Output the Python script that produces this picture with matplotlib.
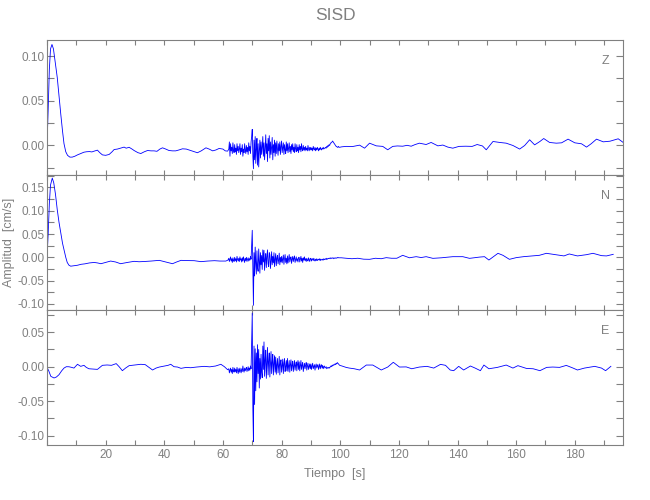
import numpy as np
import matplotlib
matplotlib.use("Agg")
import matplotlib.pyplot as plt
from matplotlib.ticker import MultipleLocator, FormatStrFormatter, FuncFormatter

plt.rcParams['font.family'] = ['Liberation Sans', 'DejaVu Sans']

# ── data ------------------------------------------------------------------- #
station = "SISD"
components = ["Z", "N", "E"]

# quiet parts: (time s, amplitude cm/s)
z_head = [(0.0, 0.000), (0.4, 0.040), (0.8, 0.085), (1.2, 0.108), (1.7, 0.113),
          (2.2, 0.108), (2.8, 0.093), (3.5, 0.076), (4.2, 0.052), (4.7, 0.035),
          (5.3, 0.016), (5.8, 0.002), (6.4, -0.007), (7.0, -0.011), (7.8, -0.013),
          (8.6, -0.013), (9.5, -0.012), (10.4, -0.0105), (11.5, -0.009), (12.6, -0.0075),
          (13.5, -0.007), (14.5, -0.0068), (15.3, -0.0072), (16.1, -0.0063), (17.2, -0.0052),
          (18.0, -0.008), (18.9, -0.0105), (20.0, -0.011), (21.2, -0.010), (22.2, -0.007),
          (22.9, -0.0045), (24.0, -0.004), (25.0, -0.003), (26.3, -0.0018), (27.0, -0.003),
          (28.0, -0.002), (29.0, -0.004), (29.7, -0.0056), (31.0, -0.008), (32.0, -0.009),
          (33.2, -0.007), (34.3, -0.0056), (35.5, -0.006), (36.5, -0.006), (37.5, -0.0065),
          (38.5, -0.004), (39.4, -0.0026), (40.5, -0.004), (41.6, -0.0056), (42.8, -0.006),
          (43.9, -0.006), (45.0, -0.005), (46.2, -0.0037), (47.5, -0.004), (49.0, -0.0056),
          (50.2, -0.007), (51.3, -0.0081), (52.6, -0.006), (54.2, -0.0026), (55.3, -0.004),
          (56.5, -0.006), (57.6, -0.005), (58.7, -0.0033), (60.0, -0.004), (60.8, -0.006),
          (61.6, -0.0063)]
z_tail = [(100.5, -0.0015), (102.0, -0.001), (104.3, -0.0011), (106.6, 0.0004), (108.3, -0.003),
          (110.0, 0.0026), (112.3, -0.0004), (114.5, -0.001), (116.2, -0.0048), (117.9, -0.001),
          (119.5, -0.0005), (121.3, -0.0008), (122.8, 0.0002), (124.2, -0.0008), (125.5, 0.001),
          (127.0, 0.0026), (129.3, 0.0011), (131.0, 0.0034), (133.3, -0.0004), (135.0, 0.0005),
          (136.7, -0.0018), (138.4, -0.003), (140.5, -0.001), (142.8, -0.0008), (145.0, -0.001),
          (146.7, 0.0011), (148.5, -0.0005), (149.8, -0.0048), (152.1, 0.0045), (154.4, 0.0034),
          (156.6, 0.0026), (158.9, 0.0), (161.2, -0.004), (162.9, 0.0), (164.6, 0.0064),
          (166.3, 0.0007), (168.1, 0.0045), (169.4, 0.0078), (171.4, 0.0034), (173.7, 0.0026),
          (175.5, 0.003), (177.7, 0.0071), (180.0, 0.003), (182.3, 0.0019), (184.0, -0.0018),
          (185.6, 0.002), (187.4, 0.0071), (189.7, 0.0041), (192.0, 0.0048), (194.8, 0.0075),
          (196.5, 0.0034)]

n_head = [(0.0, -0.0015), (0.4, 0.05), (0.8, 0.115), (1.2, 0.155), (1.8, 0.170),
          (2.3, 0.160), (2.9, 0.135), (3.5, 0.102), (4.1, 0.075), (4.7, 0.052),
          (5.3, 0.030), (5.8, 0.016), (6.4, 0.000), (6.9, -0.011), (7.5, -0.017),
          (8.1, -0.019), (9.2, -0.018), (10.4, -0.017), (11.6, -0.015), (12.9, -0.014),
          (14.5, -0.012), (16.1, -0.011), (17.2, -0.012), (18.4, -0.0137), (20.0, -0.011),
          (21.7, -0.008), (23.4, -0.010), (25.1, -0.0137), (27.4, -0.011), (29.7, -0.0086),
          (31.4, -0.0095), (33.1, -0.009), (35.5, -0.008), (38.3, -0.0065), (40.5, -0.010),
          (42.8, -0.0137), (44.2, -0.010), (45.7, -0.0065), (48.0, -0.007), (50.2, -0.0072),
          (52.5, -0.0093), (54.8, -0.008), (57.1, -0.0072), (59.0, -0.008), (61.0, -0.008),
          (61.7, -0.006)]
n_tail = [(100.4, -0.001), (102.0, -0.002), (104.0, -0.003), (106.0, -0.002), (108.0, -0.004),
          (110.0, -0.0043), (112.0, -0.002), (114.0, -0.003), (115.7, -0.0007), (117.5, -0.002),
          (119.3, -0.002), (121.3, 0.0043), (123.6, -0.001), (125.9, 0.0014), (127.6, -0.0005),
          (129.3, 0.0014), (131.6, -0.0022), (134.5, -0.001), (138.4, 0.0014), (141.8, 0.0014),
          (144.1, -0.0022), (147.5, 0.0005), (149.2, 0.0014), (150.7, -0.0058), (153.8, 0.0086),
          (155.5, 0.0043), (157.7, -0.0043), (160.0, -0.0007), (162.5, 0.0014), (165.6, 0.003),
          (167.9, 0.0043), (170.3, 0.0086), (172.5, 0.0065), (176.3, 0.003), (178.1, 0.0072),
          (180.9, 0.003), (184.0, 0.0057), (186.2, 0.0086), (189.1, 0.0036), (190.8, 0.003),
          (193.1, 0.0064)]

e_head = [(0.0, -0.001), (0.6, -0.006), (1.3, -0.014), (2.4, -0.0164), (3.2, -0.015),
          (4.1, -0.0116), (5.0, -0.006), (5.8, -0.002), (6.6, 0.0), (7.5, -0.0001),
          (8.4, -0.001), (9.2, -0.002), (10.4, 0.0035), (11.5, 0.0005), (12.6, 0.002),
          (13.4, -0.001), (14.3, -0.003), (15.8, -0.0035), (17.2, -0.0039), (18.9, 0.002),
          (20.5, 0.0025), (22.0, 0.002), (23.6, 0.0045), (24.6, 0.0), (25.7, -0.0058),
          (26.8, -0.002), (28.0, 0.0015), (30.0, 0.0025), (32.0, 0.0035), (33.5, 0.003),
          (34.8, -0.001), (36.0, -0.0048), (37.2, -0.002), (38.3, -0.0005), (40.0, 0.001),
          (41.3, 0.002), (42.2, 0.0035), (43.3, 0.0), (44.5, -0.0005), (45.7, -0.0024),
          (47.5, -0.001), (49.0, -0.0015), (51.0, -0.0005), (53.6, 0.0005), (55.5, -0.0002),
          (57.5, 0.001), (59.3, 0.0035), (60.5, 0.0), (61.6, -0.0044)]
e_tail = [(100.6, 0.001), (102.0, -0.001), (103.1, -0.002), (104.8, -0.003), (106.6, -0.0048),
          (108.9, 0.0024), (111.1, 0.0024), (112.5, -0.001), (114.0, -0.0048), (116.2, -0.0005),
          (118.1, 0.0064), (120.2, -0.0005), (122.5, -0.0003), (124.4, -0.003), (127.0, -0.0005),
          (129.6, 0.0005), (131.9, -0.002), (134.2, 0.0034), (135.9, 0.002), (137.5, -0.0048),
          (138.7, -0.0058), (140.4, 0.0005), (142.1, -0.0048), (144.4, 0.001), (146.0, -0.002),
          (147.8, -0.0058), (149.0, 0.0024), (150.7, -0.003), (153.6, -0.001), (156.6, 0.0024),
          (158.9, -0.002), (160.6, 0.0015), (163.5, -0.0025), (165.8, -0.003), (168.1, -0.0058),
          (170.4, -0.001), (172.5, -0.0005), (174.8, -0.001), (177.1, 0.0019), (179.4, -0.002),
          (180.9, -0.0048), (183.3, -0.002), (186.8, 0.0005), (189.1, -0.002), (190.5, -0.0058),
          (192.3, 0.0005)]

# strong-motion window, one value every 0.2 s from 62.0 s to 99.8 s (10 per row = 2 s)
noise_t = 62.0 + 0.2 * np.arange(190)
z_noise = [
    -0.004, 0.004, -0.012, 0.002, -0.006, -0.002, -0.009, 0.003, -0.005, -0.008,
    0.001, -0.007, -0.003, -0.010, 0.002, -0.006, -0.001, -0.008, -0.004, 0.002,
    -0.010, -0.003, -0.007, 0.001, -0.012, -0.004, -0.008, 0.002, -0.005, -0.009,
    0.000, -0.007, -0.002, -0.010, 0.003, -0.006, -0.001, -0.009, 0.004, 0.010,
    0.018, -0.012, -0.026, 0.006, -0.016, 0.010, -0.020, -0.004, 0.008, -0.022,
    0.002, -0.024, -0.006, 0.006, -0.014, 0.004, -0.010, -0.002, 0.010, -0.012,
    0.003, -0.016, -0.004, 0.012, -0.009, 0.002, -0.018, 0.008, -0.006, 0.011,
    -0.014, 0.004, -0.010, -0.002, 0.009, -0.016, 0.001, -0.008, 0.006, -0.012,
    0.003, -0.009, 0.005, -0.004, -0.011, 0.002, -0.006, 0.004, -0.010, -0.001,
    0.005, -0.008, -0.002, 0.003, -0.010, 0.001, -0.005, -0.009, 0.004, -0.006,
    0.002, -0.008, -0.003, 0.003, -0.007, -0.001, -0.009, 0.001, -0.005, 0.002,
    -0.007, -0.002, -0.008, 0.002, -0.004, -0.007, 0.001, -0.006, -0.002, -0.008,
    0.001, -0.005, -0.001, -0.007, 0.002, -0.004, -0.006, 0.000, -0.005, -0.002,
    -0.006, -0.001, -0.005, -0.003, -0.006, 0.000, -0.004, -0.006, -0.002, -0.005,
    -0.002, -0.005, -0.003, -0.006, -0.001, -0.004, -0.005, -0.002, -0.006, -0.003,
    -0.005, -0.002, -0.004, -0.006, -0.003, -0.005, -0.002, -0.004, -0.005, -0.003,
    -0.004, -0.002, -0.004, -0.003, -0.003, -0.002, -0.003, -0.001, -0.002, 0.000,
    -0.001, 0.001, 0.000, 0.002, 0.003, 0.003, 0.004, 0.005, 0.004, 0.003,
    0.002, 0.001, 0.000, -0.001, -0.001, -0.002, -0.002, -0.001, -0.002, -0.002]
n_noise = [
    -0.002, -0.009, -0.004, 0.001, -0.008, -0.003, -0.011, -0.001, -0.006, -0.009,
    0.000, -0.007, -0.003, -0.010, 0.002, -0.005, -0.008, -0.002, -0.009, 0.001,
    -0.006, -0.003, -0.010, -0.001, -0.008, 0.001, -0.005, -0.011, -0.002, -0.007,
    0.000, -0.009, -0.004, -0.001, -0.008, -0.003, -0.006, 0.002, -0.004, 0.030,
    0.058, -0.020, -0.103, 0.010, -0.040, 0.022, -0.012, -0.036, 0.014, -0.022,
    -0.030, 0.018, -0.008, -0.034, 0.010, -0.016, 0.004, -0.026, 0.016, -0.010,
    0.015, -0.028, -0.004, 0.008, -0.022, 0.002, 0.016, -0.014, -0.020, 0.010,
    0.006, -0.024, -0.008, 0.012, -0.016, 0.002, -0.012, 0.010, -0.020, -0.004,
    0.008, -0.018, -0.002, 0.004, -0.014, -0.006, 0.009, -0.016, 0.000, -0.010,
    0.002, -0.012, -0.004, 0.005, -0.015, -0.003, 0.006, -0.011, -0.002, -0.014,
    0.003, -0.012, -0.003, 0.006, -0.010, -0.002, 0.001, -0.013, -0.004, 0.002,
    -0.009, -0.002, 0.003, -0.011, -0.005, 0.001, -0.008, -0.003, -0.010, 0.000,
    0.000, -0.010, -0.004, 0.002, -0.008, -0.002, -0.011, -0.001, -0.006, 0.001,
    -0.007, -0.003, -0.009, -0.002, -0.006, -0.008, -0.001, -0.005, -0.009, -0.003,
    -0.002, -0.008, -0.004, -0.003, -0.007, -0.002, -0.006, -0.008, -0.004, -0.007,
    -0.003, -0.007, -0.005, -0.004, -0.006, -0.003, -0.007, -0.004, -0.005, -0.006,
    -0.004, -0.006, -0.003, -0.005, -0.004, -0.003, -0.005, -0.002, -0.004, -0.003,
    -0.002, -0.003, -0.002, -0.001, -0.003, -0.002, -0.001, -0.002, -0.001, -0.003,
    -0.002, -0.001, -0.002, -0.001, -0.002, -0.001, 0.000, -0.001, -0.001, -0.001]
e_noise = [
    -0.003, -0.009, -0.005, -0.002, -0.008, -0.004, -0.010, -0.001, -0.006, -0.008,
    -0.002, -0.007, -0.004, -0.009, -0.001, -0.006, -0.010, -0.003, -0.008, -0.002,
    -0.006, -0.009, -0.003, -0.007, 0.001, -0.005, -0.008, -0.002, -0.006, -0.003,
    -0.001, -0.007, -0.004, 0.000, -0.006, -0.002, -0.005, 0.001, -0.003, 0.040,
    0.078, -0.060, -0.109, 0.030, -0.055, 0.026, -0.035, 0.020, -0.022, 0.032,
    -0.010, 0.025, -0.031, 0.012, -0.018, 0.018, -0.008, -0.016, 0.030, -0.004,
    0.036, -0.014, 0.010, 0.024, -0.017, 0.004, 0.028, -0.012, 0.008, 0.020,
    -0.015, 0.002, 0.022, -0.010, 0.006, 0.018, -0.012, 0.004, 0.016, -0.008,
    0.014, -0.011, 0.003, 0.012, -0.009, 0.001, 0.015, -0.012, 0.005, 0.010,
    -0.008, 0.002, 0.011, -0.010, 0.004, 0.012, -0.007, 0.000, 0.009, -0.006,
    0.012, -0.007, 0.001, 0.009, -0.008, 0.003, 0.010, -0.006, 0.002, 0.008,
    -0.007, 0.001, 0.009, -0.005, 0.002, 0.007, -0.006, 0.003, 0.009, -0.004,
    0.007, -0.006, 0.001, 0.009, -0.004, 0.002, 0.006, -0.007, 0.000, 0.005,
    -0.003, 0.002, 0.006, -0.005, 0.001, 0.005, -0.004, 0.000, 0.004, -0.003,
    0.004, -0.004, 0.001, 0.005, -0.003, 0.000, 0.003, -0.005, 0.001, 0.004,
    -0.002, 0.001, 0.003, -0.004, 0.000, 0.004, -0.003, 0.001, 0.003, -0.002,
    0.002, -0.003, 0.000, 0.001, -0.002, -0.001, 0.000, -0.003, -0.002, -0.001,
    -0.002, -0.001, -0.002, 0.000, 0.001, 0.000, 0.002, 0.001, 0.003, 0.002,
    0.003, 0.004, 0.003, 0.005, 0.004, 0.006, 0.005, 0.004, 0.003, 0.002]

ylims = [(-0.033, 0.118), (-0.113, 0.1766), (-0.1138, 0.0824)]
xlim = (0, 196.4)


def build(head, noise, tail):
    t = [p[0] for p in head] + list(noise_t) + [p[0] for p in tail]
    v = [p[1] for p in head] + list(noise) + [p[1] for p in tail]
    return np.array(t), np.array(v)


traces = [build(z_head, z_noise, z_tail),
          build(n_head, n_noise, n_tail),
          build(e_head, e_noise, e_tail)]

# ── figure ---------------------------------------------------------------- #
grey = "#808080"
fig = plt.figure(figsize=(6.5, 5), dpi=100)
bottoms = [0.65, 0.38, 0.11]
axes = []
for i, (t, v) in enumerate(traces):
    ax = fig.add_axes([0.0723, bottoms[i], 0.886, 0.27])
    ax.plot(t, v, color="#0000ff", lw=0.6)
    ax.set_xlim(*xlim)
    ax.set_ylim(*ylims[i])
    ax.xaxis.set_major_locator(MultipleLocator(20))
    ax.xaxis.set_minor_locator(MultipleLocator(10))
    ax.xaxis.set_major_formatter(FuncFormatter(lambda x, p: "" if x < 1 else "%d" % x))
    ax.yaxis.set_major_locator(MultipleLocator(0.05))
    ax.yaxis.set_minor_locator(MultipleLocator(0.025))
    ax.yaxis.set_major_formatter(FormatStrFormatter("%.2f"))
    ax.tick_params(axis="both", which="both", direction="in", colors=grey,
                   top=True, right=True, width=0.8, labelsize=8.5)
    ax.tick_params(axis="x", which="both", length=3.6, pad=3)
    ax.tick_params(axis="y", which="both", length=5, pad=1.5)
    for s in ax.spines.values():
        s.set_color(grey)
        s.set_linewidth(0.8)
    if i < 2:
        ax.tick_params(axis="x", labelbottom=False)
    ax.text(0.970, 0.845, components[i], transform=ax.transAxes, color=grey,
            fontsize=9, ha="center", va="center")
    axes.append(ax)

fig.text(0.516, 0.97, station, color=grey, fontsize=12.5, ha="center", va="center")
axes[1].set_ylabel("Amplitud  [cm/s]", color=grey, fontsize=9)
axes[1].yaxis.set_label_coords(-0.056, 0.5)
axes[2].set_xlabel("Tiempo  [s]", color=grey, fontsize=9, labelpad=5)

fig.savefig("out.png", dpi=100)
